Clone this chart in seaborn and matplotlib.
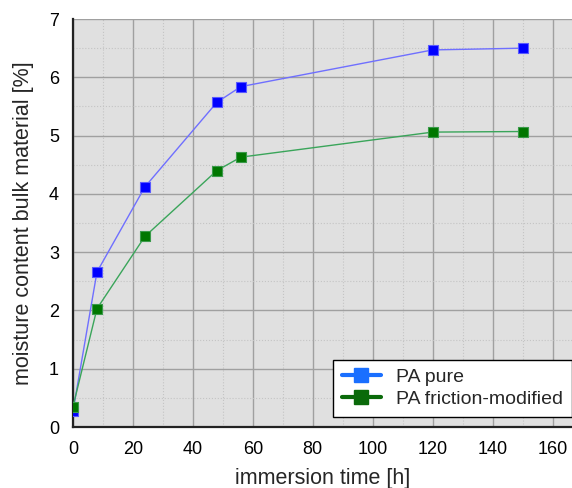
import matplotlib
matplotlib.use('Agg')
import matplotlib.pyplot as plt
import seaborn as sns
import pandas as pd
from matplotlib.lines import Line2D
from matplotlib.ticker import MultipleLocator

# immersion time [h] and moisture content [%]
time_h = [0, 8, 24, 48, 56, 120, 150]
pa_pure = [0.27, 2.66, 4.12, 5.57, 5.84, 6.47, 6.50]
pa_friction = [0.35, 2.03, 3.27, 4.40, 4.63, 5.06, 5.07]

df = pd.DataFrame({'time': time_h * 2,
                   'moisture': pa_pure + pa_friction,
                   'material': ['PA pure'] * len(time_h) + ['PA friction-modified'] * len(time_h)})

sns.set_style('white')
plt.rcParams['font.family'] = ['Liberation Sans', 'DejaVu Sans']

fig = plt.figure(figsize=(5.72, 4.88), dpi=100)
ax = fig.add_axes([0.1276, 0.125, 0.8724, 0.836])
ax.set_facecolor('#e0e0e0')

line_colors = {'PA pure': '#6f6fff', 'PA friction-modified': '#3aa55a'}
marker_colors = {'PA pure': '#0000ff', 'PA friction-modified': '#007700'}
edge_colors = {'PA pure': '#5a5aff', 'PA friction-modified': '#3a9a4a'}

for name in ['PA pure', 'PA friction-modified']:
    sub = df[df['material'] == name]
    sns.lineplot(data=sub, x='time', y='moisture', ax=ax, color=line_colors[name],
                 linewidth=1.0, legend=False, zorder=3)
    sns.scatterplot(data=sub, x='time', y='moisture', ax=ax, marker='s', s=52,
                    color=marker_colors[name], edgecolor=edge_colors[name], linewidth=0.8,
                    legend=False, zorder=4)

ax.set_xlim(0, 166.5)
ax.set_ylim(0, 7)
ax.xaxis.set_major_locator(MultipleLocator(20))
ax.xaxis.set_minor_locator(MultipleLocator(10))
ax.yaxis.set_major_locator(MultipleLocator(1))
ax.yaxis.set_minor_locator(MultipleLocator(0.5))
ax.grid(True, which='major', color='#a0a0a0', linewidth=1.0, zorder=1)
ax.grid(True, which='minor', color='#c4c4c4', linewidth=0.8, linestyle=':', zorder=1)
ax.set_axisbelow(True)

for side in ['top', 'right']:
    ax.spines[side].set_visible(False)
for side in ['left', 'bottom']:
    ax.spines[side].set_color('#222222')
    ax.spines[side].set_linewidth(1.6)

ax.tick_params(which='major', direction='out', length=5, width=1.5, labelsize=13,
               colors='#222222', labelcolor='black', pad=5)
ax.tick_params(which='minor', direction='out', length=3, width=1.2, colors='#222222')

ax.set_xlabel('immersion time [h]', fontsize=15.5, labelpad=7)
ax.set_ylabel('moisture content bulk material [%]', fontsize=15.5, labelpad=11)

handles = [Line2D([0], [0], color='#1a6fff', lw=3, marker='s', markersize=10,
                  markerfacecolor='#1a6fff', markeredgecolor='#1a6fff', label='PA pure'),
           Line2D([0], [0], color='#0a6a0a', lw=3, marker='s', markersize=10,
                  markerfacecolor='#0a6a0a', markeredgecolor='#0a6a0a', label='PA friction-modified')]
leg = ax.legend(handles=handles, loc='lower right', bbox_to_anchor=(1.0, 0.025), fontsize=14,
                frameon=True, fancybox=False, edgecolor='black', framealpha=1,
                handlelength=2.0, handletextpad=0.8, borderpad=0.45, labelspacing=0.22,
                borderaxespad=0.0)
leg.get_frame().set_linewidth(1.0)

fig.savefig('out.png', dpi=100)
